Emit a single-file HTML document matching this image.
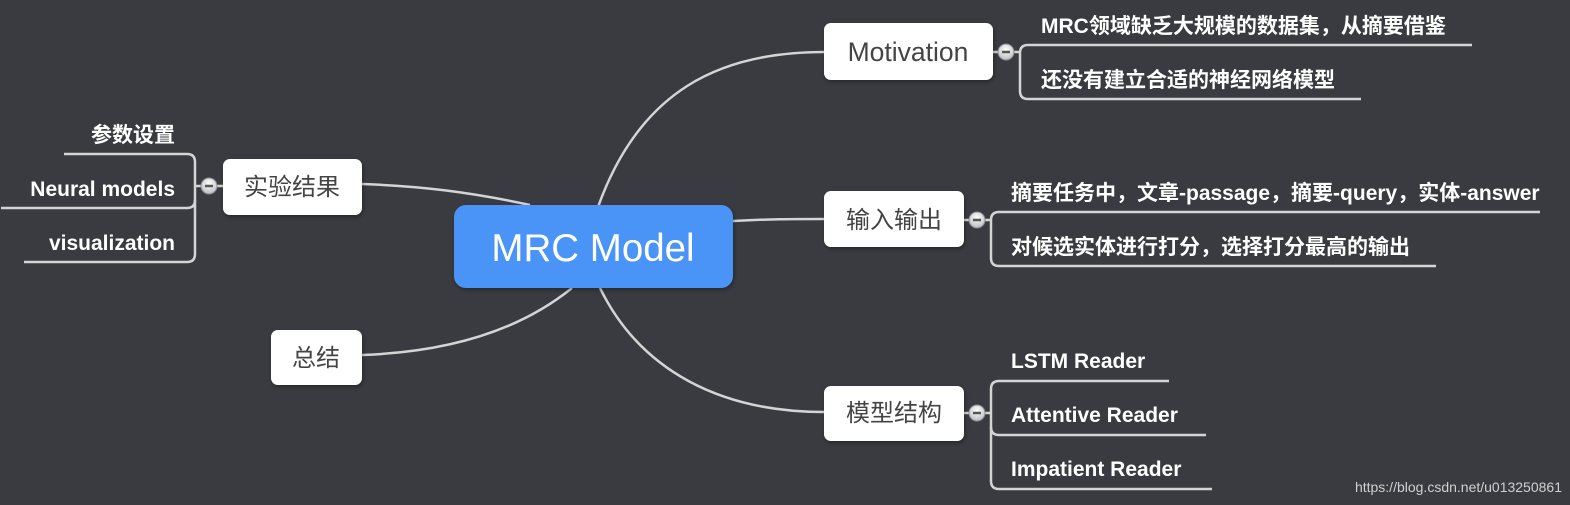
<!DOCTYPE html>
<html><head><meta charset="utf-8"><style>
html,body{margin:0;padding:0;background:#393b40;}
svg{display:block}
text{font-family:"Liberation Sans","Noto Sans CJK SC",sans-serif;}
</style></head><body>
<svg width="1570" height="505" viewBox="0 0 1570 505" xmlns="http://www.w3.org/2000/svg">
<defs>
<radialGradient id="g" cx="50%" cy="35%" r="60%"><stop offset="0" stop-color="#fff"/><stop offset="1" stop-color="#bfc2c6"/></radialGradient>
<filter id="sh" x="-10%" y="-10%" width="130%" height="140%"><feDropShadow dx="1" dy="2" stdDeviation="2" flood-color="#000" flood-opacity="0.35"/></filter>
</defs>
<g fill="none" stroke="#d4d4d4" stroke-width="2.5">
<path d="M598,207 C640,90 720,52 824,52"/>
<path d="M733,221 C770,219 790,219 824,219"/>
<path d="M600,288 C640,370 720,412 824,412"/>
<path d="M362,184 C420,186 470,192 530,205"/>
<path d="M362,355 C450,352 520,330 572,288"/>
<path d="M993,52 L1020,52"/>
<path d="M1472,45 L1028,45 Q1020,45 1020,53 L1020,91 Q1020,99 1028,99 L1361,99"/>
<path d="M964,220 L991,220"/>
<path d="M1540,212 L999,212 Q991,212 991,220 L991,258 Q991,266 999,266 L1436,266"/>
<path d="M964,413 L991,413"/>
<path d="M1169,381 L999,381 Q991,381 991,389 L991,481 Q991,489 999,489 L1212,489"/>
<path d="M991,427 Q991,435 999,435 L1206,435"/>
<path d="M223,186 L195,186"/>
<path d="M64,154 L187,154 Q195,154 195,162 L195,254 Q195,262 187,262 L24,262"/>
<path d="M195,200 Q195,208 187,208 L1,208"/>
</g>
<g stroke="#8a8d92" stroke-width="1" fill="url(#g)">
<circle cx="1006" cy="52" r="8"/><circle cx="977" cy="220" r="8"/><circle cx="977" cy="413" r="8"/><circle cx="209" cy="186" r="8"/>
</g>
<g stroke="#555" stroke-width="2.5">
<path d="M1002,52h8M973,220h8M973,413h8M205,186h8"/>
</g>
<g filter="url(#sh)">
<rect x="454" y="205" width="279" height="83" rx="12" fill="#4b94f7"/>
<rect x="824" y="23" width="169" height="57" rx="7" fill="#fff"/>
<rect x="824" y="191" width="140" height="56" rx="7" fill="#fff"/>
<rect x="824" y="386" width="140" height="55" rx="7" fill="#fff"/>
<rect x="223" y="159" width="139" height="56" rx="7" fill="#fff"/>
<rect x="271" y="330" width="91" height="55" rx="7" fill="#fff"/>
</g>
<text x="593" y="261" font-size="38.5" fill="#fff" text-anchor="middle">MRC Model</text>
<g font-size="24" fill="#444" text-anchor="middle">
<text x="908" y="61" font-size="26.5">Motivation</text>
<text x="894" y="228">输入输出</text>
<text x="894" y="421">模型结构</text>
<text x="292" y="195">实验结果</text>
<text x="316" y="366">总结</text>
</g>
<g font-size="21" fill="#fff" font-weight="bold">
<text x="1041" y="33">MRC领域缺乏大规模的数据集，从摘要借鉴</text>
<text x="1041" y="87">还没有建立合适的神经网络模型</text>
<text x="1011" y="200">摘要任务中，文章-passage，摘要-query，实体-answer</text>
<text x="1011" y="254">对候选实体进行打分，选择打分最高的输出</text>
<text x="1011" y="368">LSTM Reader</text>
<text x="1011" y="422">Attentive Reader</text>
<text x="1011" y="476">Impatient Reader</text>
<g text-anchor="end">
<text x="175" y="142">参数设置</text>
<text x="175" y="196">Neural models</text>
<text x="175" y="250">visualization</text>
</g>
</g>
<text x="1562" y="492" font-size="14" fill="#d0d0d0" text-anchor="end">https://blog.csdn.net/u013250861</text>
</svg>
</body></html>
